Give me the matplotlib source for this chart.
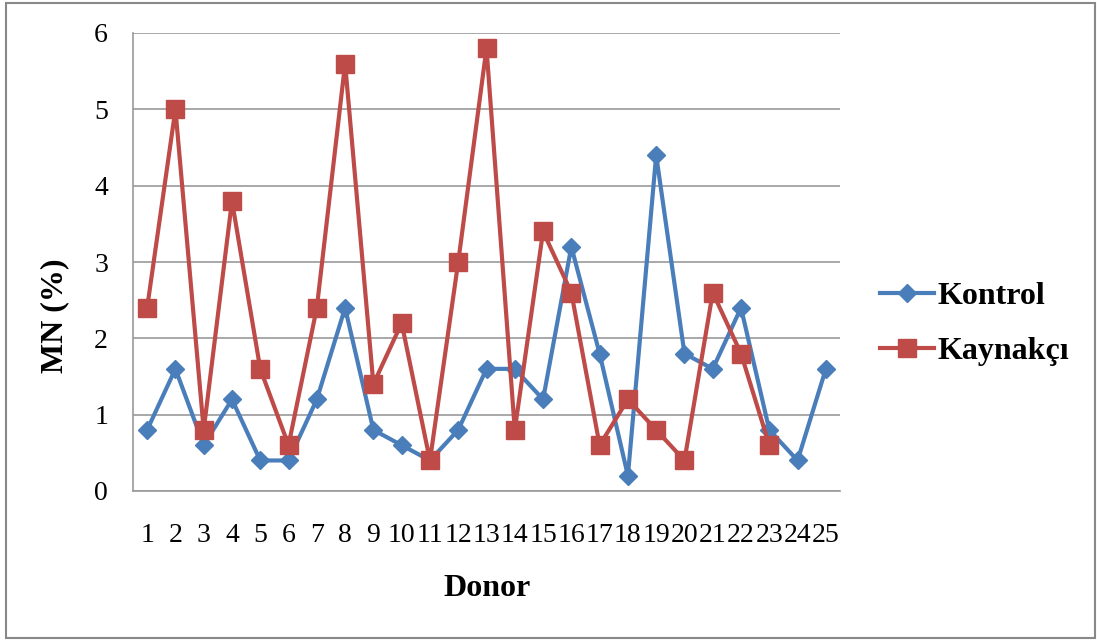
import matplotlib.pyplot as plt
from matplotlib.patches import Rectangle

# donor numbers and MN (%) values
donors = list(range(1, 26))
kontrol = [0.8, 1.6, 0.6, 1.2, 0.4, 0.4, 1.2, 2.4, 0.8, 0.6, 0.4, 0.8, 1.6,
           1.6, 1.2, 3.2, 1.8, 0.2, 4.4, 1.8, 1.6, 2.4, 0.8, 0.4, 1.6]
kaynakci = [2.4, 5.0, 0.8, 3.8, 1.6, 0.6, 2.4, 5.6, 1.4, 2.2, 0.4, 3.0, 5.8,
            0.8, 3.4, 2.6, 0.6, 1.2, 0.8, 0.4, 2.6, 1.8, 0.6]
y_ticks = [0, 1, 2, 3, 4, 5, 6]

BLUE = '#4A7EBB'
RED = '#BE4B48'
GRID = '#999999'

plt.rcParams['font.family'] = ['Liberation Serif', 'DejaVu Serif']

fig = plt.figure(figsize=(10.97, 6.40), dpi=100)
ax = fig.add_axes([133 / 1097, 1 - 491 / 640, (840 - 133) / 1097, (491 - 33) / 640])

ax.plot(donors, kontrol, color=BLUE, lw=3, marker='D', ms=9,
        label='Kontrol', zorder=3)
ax.plot(donors[:len(kaynakci)], kaynakci, color=RED, lw=3, marker='s', ms=13,
        label='Kaynakçı', zorder=4)

ax.set_xlim(0.5, 25.5)
ax.set_ylim(0, 6)
ax.set_yticks(y_ticks)
ax.set_xticks(donors)
ax.set_xticklabels([str(d) for d in donors])
ax.tick_params(axis='both', length=0, labelsize=20)
ax.tick_params(axis='x', pad=23)
ax.tick_params(axis='y', pad=18)

ax.grid(axis='y', color=GRID, lw=1.2)
ax.set_axisbelow(True)
for side in ['top', 'right']:
    ax.spines[side].set_visible(False)
ax.spines['left'].set_color(GRID)
ax.spines['bottom'].set_color(GRID)
ax.spines['left'].set_linewidth(1.2)
ax.spines['bottom'].set_linewidth(1.2)

fig.text(487 / 1097, 1 - 588 / 640, 'Donor', ha='center', va='center',
         fontsize=23, fontweight='bold')
fig.text(55 / 1097, 1 - 316 / 640, 'MN (%)', ha='center', va='center',
         rotation=90, fontsize=23, fontweight='bold')

leg = fig.legend(loc='center left', bbox_to_anchor=(880 / 1097, 1 - 324 / 640),
                 frameon=False, handlelength=1.7, borderpad=0, borderaxespad=0,
                 handletextpad=0.1, labelspacing=0.8,
                 prop={'weight': 'bold', 'size': 23})

# outer chart border
fig.patches.append(Rectangle((6 / 1097, 2 / 640), 1089 / 1097, 635 / 640,
                             transform=fig.transFigure, fill=False,
                             edgecolor='#888888', lw=1.5))

fig.savefig('out.png', dpi=100)
